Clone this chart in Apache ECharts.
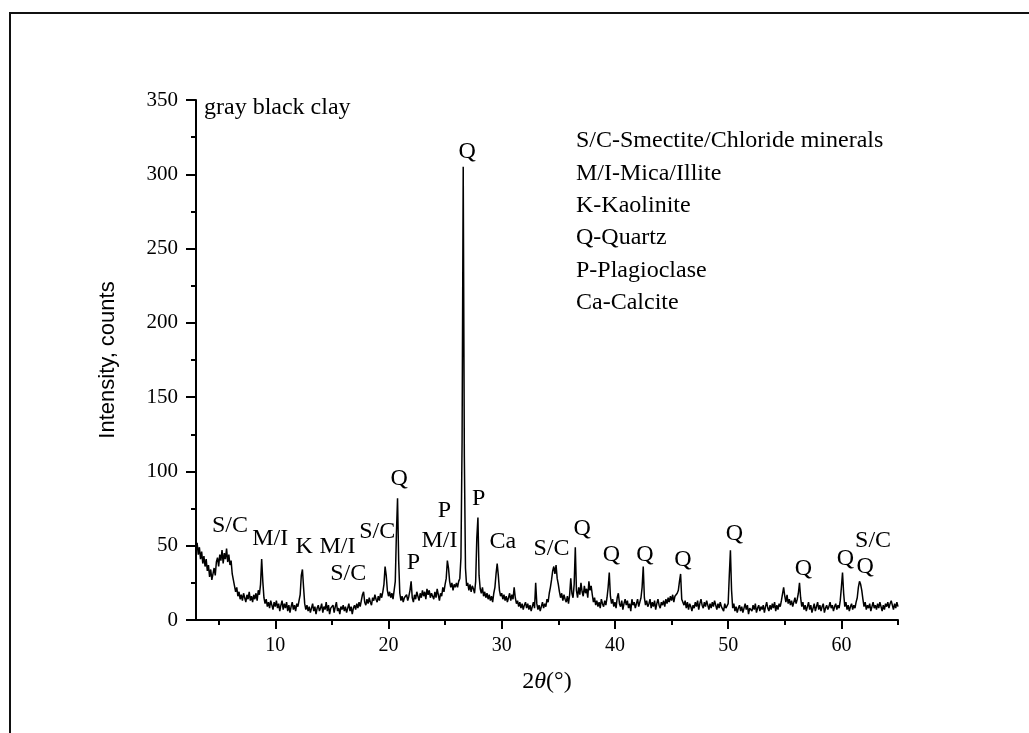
<!DOCTYPE html>
<html lang="en">

<head>
    <meta charset="UTF-8">
    <title>XRD - gray black clay</title>
    <script src="https://cdn.jsdelivr.net/npm/echarts@6.0.0/dist/echarts.min.js"></script>
    <style>
        html, body { margin: 0; padding: 0; background: #fff; }
        #xrd_show { width: 1029px; height: 733px; }
    </style>
</head>

<body>
    <div id="xrd_show"></div>

    <script>
        // scan: 2theta from 3 to 65 deg, step 0.1
        var thetaStart = 3.0;
        var thetaStep = 0.1;

        // counts, one row per degree (x.0 ... x.9)
        var intensity = [
            47, 52, 44, 49, 41, 46, 38, 43, 36, 41,   // 3
            33, 37, 29, 34, 27, 31, 35, 30, 39, 42,   // 4
            36, 44, 40, 47, 38, 45, 41, 48, 39, 44,   // 5
            37, 40, 31, 27, 23, 19, 22, 16, 19, 14,   // 6
            17, 13, 18, 15, 12, 17, 14, 19, 13, 16,   // 7
            12, 17, 14, 18, 13, 20, 17, 24, 41, 26,   // 8
            15, 11, 14, 9, 12, 8, 13, 10, 7, 12,      // 9
            9, 13, 8, 11, 6, 10, 13, 7, 11, 8,        // 10
            12, 6, 10, 5, 9, 12, 7, 10, 6, 11,        // 11
            9, 13, 17, 30, 34, 22, 11, 7, 10, 6,      // 12
            9, 5, 8, 11, 6, 9, 4, 8, 10, 6,           // 13
            8, 11, 5, 9, 7, 12, 6, 10, 4, 8,          // 14
            7, 10, 5, 9, 12, 6, 8, 4, 9, 7,           // 15
            10, 6, 9, 5, 8, 11, 6, 9, 4, 8,           // 16
            10, 7, 11, 8, 12, 9, 13, 17, 19, 12,      // 17
            10, 14, 11, 15, 12, 10, 15, 13, 17, 14,   // 18
            12, 16, 13, 18, 15, 19, 24, 36, 30, 20,   // 19
            16, 19, 15, 18, 14, 20, 26, 58, 82, 40,   // 20
            18, 13, 16, 12, 15, 14, 17, 13, 16, 20,   // 21
            26, 15, 12, 17, 14, 19, 16, 13, 18, 15,   // 22
            20, 16, 19, 14, 21, 17, 20, 15, 18, 16,   // 23
            14, 19, 15, 21, 17, 13, 18, 16, 22, 19,   // 24
            24, 28, 40, 35, 26, 22, 25, 20, 24, 22,   // 25
            25, 22, 26, 28, 42, 120, 305, 110, 35, 23, // 26
            25, 20, 24, 19, 23, 21, 18, 26, 55, 69,   // 27
            30, 21, 18, 22, 16, 19, 15, 18, 14, 17,   // 28
            13, 16, 12, 18, 22, 31, 38, 30, 20, 16,   // 29
            18, 14, 17, 13, 16, 12, 15, 18, 13, 17,   // 30
            14, 22, 15, 11, 13, 9, 12, 8, 11, 7,      // 31
            10, 12, 8, 11, 7, 10, 6, 9, 12, 8,        // 32
            25, 11, 7, 10, 6, 9, 12, 8, 11, 9,        // 33
            14, 12, 18, 22, 27, 33, 36, 31, 37, 28,   // 34
            24, 19, 15, 18, 13, 17, 14, 12, 16, 11,   // 35
            17, 28, 18, 15, 24, 49, 20, 15, 22, 17,   // 36
            25, 19, 16, 23, 18, 21, 15, 26, 20, 23,   // 37
            17, 12, 15, 10, 13, 9, 12, 8, 14, 11,     // 38
            9, 13, 10, 15, 22, 32, 16, 11, 14, 9,     // 39
            12, 8, 15, 18, 11, 9, 13, 7, 11, 14,      // 40
            10, 13, 8, 11, 6, 14, 10, 12, 8, 11,      // 41
            14, 9, 12, 15, 22, 36, 15, 10, 13, 9,     // 42
            11, 14, 8, 12, 9, 13, 7, 11, 14, 10,      // 43
            8, 12, 10, 13, 9, 14, 11, 15, 12, 16,     // 44
            13, 17, 12, 16, 15, 18, 20, 26, 31, 14,   // 45
            14, 10, 13, 8, 12, 7, 11, 9, 6, 10,       // 46
            8, 12, 9, 13, 7, 11, 14, 10, 8, 12,       // 47
            9, 13, 10, 7, 11, 8, 12, 9, 13, 10,       // 48
            7, 11, 8, 12, 9, 10, 6, 11, 8, 9,         // 49
            11, 30, 47, 20, 8, 11, 6, 9, 5, 8,        // 50
            10, 6, 9, 5, 8, 11, 7, 10, 4, 8,          // 51
            9, 6, 10, 7, 11, 5, 8, 10, 6, 9,          // 52
            7, 10, 5, 9, 12, 8, 6, 10, 7, 11,         // 53
            8, 12, 6, 10, 7, 11, 9, 13, 12, 22,       // 54
            16, 12, 17, 11, 14, 10, 13, 9, 12, 15,    // 55
            11, 14, 18, 25, 15, 9, 12, 7, 10, 6,      // 56
            9, 12, 7, 10, 5, 8, 11, 6, 9, 12,         // 57
            7, 10, 6, 9, 11, 5, 8, 10, 7, 9,          // 58
            12, 8, 10, 6, 9, 11, 7, 10, 8, 13,        // 59
            22, 32, 18, 9, 12, 7, 10, 6, 9, 11,       // 60
            7, 10, 8, 12, 15, 22, 26, 24, 20, 14,     // 61
            9, 12, 7, 10, 8, 11, 6, 9, 12, 8,         // 62
            10, 7, 11, 8, 12, 9, 6, 10, 7, 11,        // 63
            9, 12, 8, 11, 13, 10, 7, 11, 8, 12,       // 64
            9                                         // 65
        ];

        // peak labels: text, 2theta, counts (label centre)
        var peakText = ['S/C', 'M/I', 'K', 'M/I', 'S/C', 'S/C', 'Q', 'P', 'M/I', 'P', 'Q', 'P', 'Ca',
            'S/C', 'Q', 'Q', 'Q', 'Q', 'Q', 'Q', 'Q', 'S/C', 'Q'];
        var peakTheta = [6.0, 9.55, 12.55, 15.5, 16.45, 19.0, 20.94, 22.2, 24.5, 24.95, 26.95, 27.96, 30.1,
            34.4, 37.1, 39.7, 42.65, 46.0, 50.55, 56.65, 60.35, 62.8, 62.1];
        var peakCount = [63.5, 54.5, 49, 49, 31, 59.5, 95.3, 38.3, 53.4, 73.6, 315, 81.4, 52.7,
            48.2, 61.2, 43.7, 43.7, 40.4, 57.9, 34.3, 41.5, 53.4, 35.9];

        var legendLines = ['S/C-Smectite/Chloride minerals', 'M/I-Mica/Illite', 'K-Kaolinite',
            'Q-Quartz', 'P-Plagioclase', 'Ca-Calcite'];

        var xMajorTicks = [10, 20, 30, 40, 50, 60];
        var xMinorTicks = [5, 15, 25, 35, 45, 55, 65];

        var serif = 'Liberation Serif, Times New Roman, serif';

        var lineData = [];
        for (var i = 0; i < intensity.length; i++) {
            lineData.push([Math.round((thetaStart + i * thetaStep) * 10) / 10, intensity[i]]);
        }
        var labelData = [];
        for (var j = 0; j < peakText.length; j++) {
            labelData.push([peakTheta[j], peakCount[j], peakText[j]]);
        }

        var graphics = [{
            type: 'rect',
            shape: { x: 10, y: 13, width: 1040, height: 740 },
            style: { fill: 'none', stroke: '#111', lineWidth: 2 }
        }, {
            type: 'text',
            left: 204, top: 96,
            style: { text: 'gray black clay', font: '24px ' + serif, fill: '#000' }
        }];
        for (var k = 0; k < legendLines.length; k++) {
            graphics.push({
                type: 'text',
                left: 576, top: 129 + k * 32.4,
                style: { text: legendLines[k], font: '24px ' + serif, fill: '#000' }
            });
        }

        var myChart = echarts.init(document.getElementById('xrd_show'));
        var option = {
            backgroundColor: '#fff',
            animation: false,
            grid: { left: 196, right: 131, top: 100, bottom: 113 },
            xAxis: [{
                type: 'value',
                min: 3,
                max: 65,
                name: '{n|2}{i|θ}{n|(°)}',
                nameLocation: 'middle',
                nameGap: 50,
                nameTextStyle: {
                    rich: {
                        n: { fontFamily: serif, fontSize: 24, color: '#000' },
                        i: { fontFamily: serif, fontSize: 24, fontStyle: 'italic', color: '#000' }
                    }
                },
                splitLine: { show: false },
                axisLine: { onZero: false, lineStyle: { color: '#000', width: 2 } },
                axisTick: { customValues: xMajorTicks, length: 9, lineStyle: { color: '#000', width: 2 } },
                axisLabel: { customValues: xMajorTicks, margin: 16, fontFamily: serif, fontSize: 20, color: '#000' }
            }, {
                // minor ticks only
                type: 'value',
                min: 3,
                max: 65,
                position: 'bottom',
                splitLine: { show: false },
                axisLine: { show: false },
                axisTick: { customValues: xMinorTicks, length: 5, lineStyle: { color: '#000', width: 2 } },
                axisLabel: { show: false }
            }],
            yAxis: {
                type: 'value',
                min: 0,
                max: 350,
                interval: 50,
                name: 'Intensity, counts',
                nameLocation: 'middle',
                nameGap: 77,
                nameTextStyle: { fontFamily: 'Liberation Sans, Arial, sans-serif', fontSize: 22, color: '#000' },
                splitLine: { show: false },
                axisLine: { show: true, lineStyle: { color: '#000', width: 2 } },
                axisTick: { show: true, length: 10, lineStyle: { color: '#000', width: 2 } },
                minorTick: { show: true, splitNumber: 2, length: 5, lineStyle: { color: '#000', width: 2 } },
                axisLabel: { margin: 18, fontFamily: serif, fontSize: 21, color: '#000' }
            },
            graphic: graphics,
            series: [{
                type: 'line',
                xAxisIndex: 0,
                data: lineData,
                showSymbol: false,
                sampling: 'none',
                lineStyle: { color: '#000', width: 1.5 },
                z: 3
            }, {
                // peak names, placed through the axes
                type: 'scatter',
                xAxisIndex: 0,
                data: labelData,
                symbolSize: 0,
                itemStyle: { color: '#000', opacity: 1 },
                label: {
                    show: true,
                    position: 'inside',
                    formatter: function (p) { return p.data[2]; },
                    fontFamily: serif,
                    fontSize: 24,
                    color: '#000',
                    opacity: 1,
                    textBorderWidth: 0
                },
                emphasis: { disabled: true },
                z: 4
            }]
        };
        myChart.setOption(option);
    </script>
</body>

</html>
